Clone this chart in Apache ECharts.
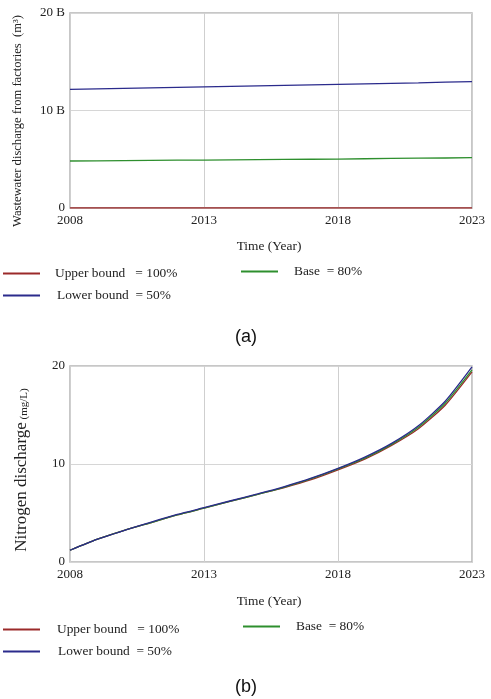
<!DOCTYPE html>
<html>
<head>
<meta charset="utf-8">
<script src="https://cdn.jsdelivr.net/npm/echarts@6/dist/echarts.min.js"></script>
<style>html,body{margin:0;padding:0;background:#fff}#c{width:491px;height:699px}</style>
</head>
<body>
<div id="c"></div>
<script>
const years = ['2008','2009','2010','2011','2012','2013','2014','2015','2016','2017','2018','2019','2020','2021','2022','2023'];
// Panel (a): wastewater discharge from factories (billion m3)
const wwUpper = [0,0,0,0,0,0,0,0,0,0,0,0,0,0,0,0];
const wwBase  = [4.82,4.84,4.86,4.88,4.90,4.92,4.94,4.96,4.98,5.00,5.02,5.05,5.08,5.11,5.13,5.16];
const wwLower = [12.17,12.22,12.27,12.32,12.37,12.42,12.47,12.52,12.57,12.62,12.67,12.73,12.79,12.84,12.90,12.96];
// Panel (b): nitrogen discharge (mg/L)
const nUpper = [1.2,2.3,3.2,4.0,4.8,5.5,6.2,6.9,7.6,8.4,9.4,10.5,11.9,13.6,16.0,19.4];
const nBase  = [1.2,2.3,3.2,4.0,4.8,5.5,6.2,6.9,7.65,8.5,9.5,10.6,12.0,13.75,16.2,19.6];
const nLower = [1.2,2.3,3.2,4.05,4.85,5.55,6.25,6.95,7.7,8.55,9.55,10.7,12.1,13.9,16.4,19.9];

const RED = '#9b2a2a', BLUE = '#2b2b8c', GREEN = '#2e8f2e';
const SERIF = '"Liberation Serif","DejaVu Serif",serif';
const chart = echarts.init(document.getElementById('c'), null, {renderer:'canvas'});

function xAx(gi){
  return {type:'category', gridIndex:gi, data:years, boundaryGap:false,
    axisLine:{show:false}, axisTick:{show:false},
    axisLabel:{interval:4, color:'#222', fontFamily:SERIF, fontSize:13, margin:6},
    splitLine:{show:true, interval:4, lineStyle:{color:'#cfcfcf', width:1}}};
}
function yAx(gi, fmt){
  return {type:'value', gridIndex:gi, min:0, max:20, interval:10,
    axisLine:{show:false}, axisTick:{show:false},
    axisLabel:{color:'#222', fontFamily:SERIF, fontSize:13, margin:5, formatter:fmt},
    splitLine:{show:true, lineStyle:{color:'#d6d6d6', width:1}}};
}
function ser(name, data, color, xi){
  return {type:'line', name:name, xAxisIndex:xi, yAxisIndex:xi, data:data, showSymbol:false,
    symbol:'none', smooth:xi === 1 ? 0.2 : false, lineStyle:{color:color, width:1.3}, itemStyle:{color:color}, z:3, animation:false};
}
function leg(name, left, top, padLeft){
  return {data:[name], left:left, top:top, padding:0, icon:'rect', itemWidth:37, itemHeight:2,
    textStyle:{fontFamily:SERIF, fontSize:13.4, color:'#222', padding:[0,0,0,padLeft]}, selectedMode:false};
}

chart.setOption({
  animation:false,
  grid:[
    {left:70, top:13, width:402, height:195, show:true, borderColor:'#b5b5b5', borderWidth:1.5},
    {left:70, top:366, width:402, height:196, show:true, borderColor:'#b5b5b5', borderWidth:1.5}
  ],
  xAxis:[xAx(0), xAx(1)],
  yAxis:[yAx(0, v => v === 0 ? '0' : v + ' B'), yAx(1, v => String(v))],
  legend:[
    leg('Upper bound   = 100%', 3, 267, 10),
    leg('Lower bound  = 50%', 3, 289, 12),
    leg('Base  = 80%', 241, 265, 11),
    leg('Upper bound   = 100% ', 3, 623, 12),
    leg('Lower bound  = 50% ', 3, 645, 13),
    leg('Base  = 80% ', 243, 620, 11)
  ],
  series:[
    ser('Upper bound   = 100%', wwUpper, RED, 0),
    ser('Base  = 80%', wwBase, GREEN, 0),
    ser('Lower bound  = 50%', wwLower, BLUE, 0),
    ser('Upper bound   = 100% ', nUpper, RED, 1),
    ser('Base  = 80% ', nBase, GREEN, 1),
    ser('Lower bound  = 50% ', nLower, BLUE, 1)
  ],
  graphic:[
    {type:'text', x:18, y:121, rotation:Math.PI/2,
      style:{text:'Wastewater discharge from factories  (m³)', fontFamily:SERIF, fontSize:12.6, fill:'#222', textAlign:'center', textVerticalAlign:'middle'}},
    {type:'text', x:22, y:470, rotation:Math.PI/2,
      style:{text:'{a|Nitrogen discharge}{b| (mg/L)}', fill:'#222', textAlign:'center', textVerticalAlign:'middle',
        rich:{a:{fontFamily:SERIF, fontSize:17, fill:'#222', verticalAlign:'bottom'}, b:{fontFamily:SERIF, fontSize:11, fill:'#222', verticalAlign:'bottom', padding:[0,0,1,0]}}}},
    {type:'text', x:269, y:246, style:{text:'Time (Year)', fontFamily:SERIF, fontSize:13.4, fill:'#222', textAlign:'center', textVerticalAlign:'middle'}},
    {type:'text', x:269, y:601, style:{text:'Time (Year)', fontFamily:SERIF, fontSize:13.4, fill:'#222', textAlign:'center', textVerticalAlign:'middle'}},
    {type:'text', x:246, y:337, style:{text:'(a)', fontFamily:'"Liberation Sans",Arial,sans-serif', fontSize:18, fill:'#111', textAlign:'center', textVerticalAlign:'middle'}},
    {type:'text', x:246, y:687, style:{text:'(b)', fontFamily:'"Liberation Sans",Arial,sans-serif', fontSize:18, fill:'#111', textAlign:'center', textVerticalAlign:'middle'}}
  ]
});
</script>
</body>
</html>
